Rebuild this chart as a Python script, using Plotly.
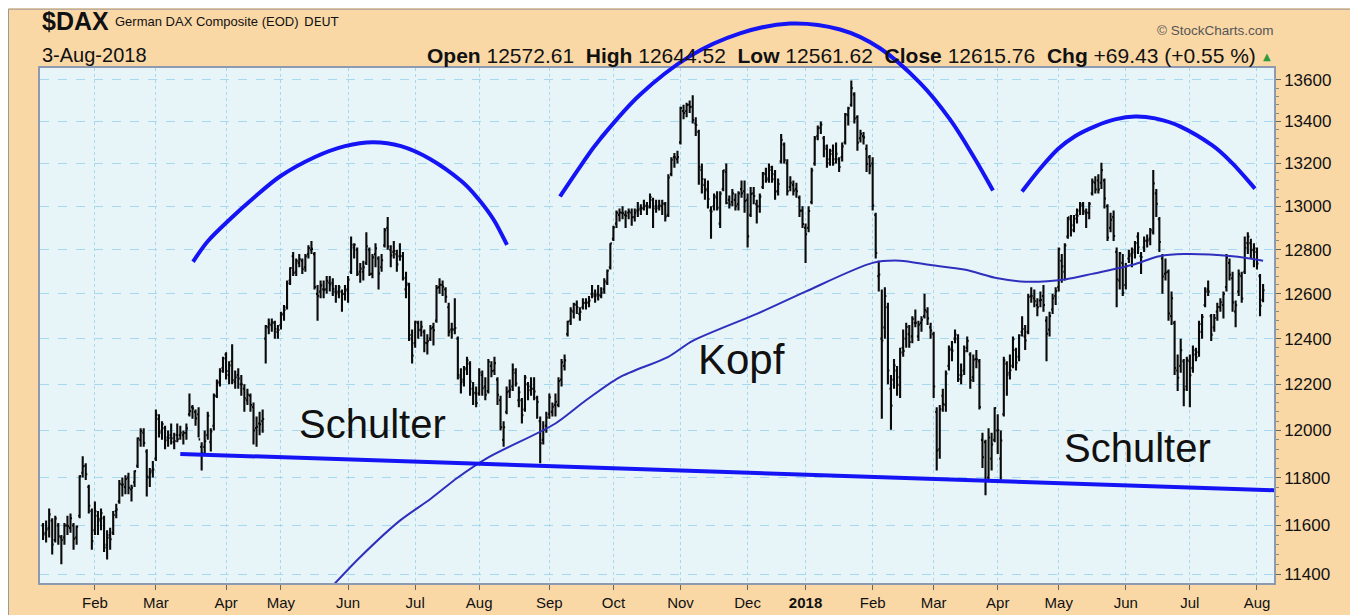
import numpy as np
import pandas as pd
import plotly.graph_objects as go

# ---------------- data ----------------
HOLIDAYS = ["2017-04-14", "2017-04-17", "2017-05-01", "2017-12-25", "2017-12-26",
            "2018-01-01", "2018-03-30", "2018-04-02", "2018-05-01"]

OPEN = [
    11600,11570,11590,11620,11540,11600,11550,11550,11600,11590,11600,11550,11640,11820,11850,11760,11660,
    11580,11640,11620,11630,11520,11560,11570,11660,11700,11770,11760,11800,11750,11780,11850,11960,11990,11910,11800,11830,
    11880,12050,11990,12010,11970,11980,11950,11980,11980,11980,11990,12070,12100,12080,12070,11930,11930,11980,11950,12020,12150,12210,12270,
    12330,12240,12300,12210,12240,12200,12180,12130,12150,12100,12010,12030,12040,12400,12450,12460,12470,12430,
    12460,12510,12540,12660,12770,12700,12740,12750,12720,12780,12800,12780,12600,12610,12620,12620,12650,12650,12610,12610,12610,12600,
    12620,12700,12810,12800,12700,12700,12740,12800,12690,12780,12760,12720,12820,12900,12800,12790,12780,12770,12770,12620,12640,12400,
    12380,12470,12440,12430,12380,12400,12450,12480,12630,12640,12620,12540,12440,12440,12400,12230,12220,12270,12290,12180,12160,
    12160,12240,12190,12170,12280,12260,12220,12130,11960,12080,12170,12190,12250,12130,12130,12090,12200,12190,12180,12140,12040,11960,12020,
    12070,12080,12110,12110,12220,12280,12420,12480,12520,12550,12510,12540,12560,12560,12600,12590,12600,12590,12620,12650,12720,
    12850,12920,12960,12970,12960,12970,12970,12950,12980,12990,12990,13000,13000,13030,13000,13000,13000,13010,12960,13150,13230,13220,
    13300,13450,13450,13480,13470,13390,13350,13170,13100,13080,12980,13000,13040,12920,13080,13160,13030,13020,13030,13010,13080,13070,
    13030,12960,13060,13010,13000,13090,13150,13130,13170,13150,13070,13210,13290,13200,13090,13100,13080,13040,12980,
    12900,12900,13020,13200,13330,13370,13320,13270,13220,13260,13220,13220,13230,13300,13430,13480,13530,13420,13320,13330,13270,13230,
    13200,12960,12680,12400,12450,12540,12180,12220,12260,12230,12360,12400,12420,12410,12470,12410,12470,12500,12520,12450,
    12420,12080,11920,12150,12110,12280,12350,12400,12400,12240,12260,12360,12330,12230,12310,12300,11960,11950,11800,11880,11960,
    12000,11880,12070,12290,12250,12280,12350,12320,12430,12410,12430,12590,12580,12550,12570,12590,12480,12440,12530,12590,
    12630,12750,12700,12860,12940,12890,12960,12980,13010,12970,12970,13060,13110,13120,13110,13120,13000,12900,12950,12790,12660,12740,
    12640,12760,12780,12800,12860,12770,12810,12840,12850,12880,13060,12940,12760,12690,12700,12500,12470,12260,12280,12300,12190,
    12300,12270,12330,12340,12430,12550,12620,12500,12450,12520,12540,12550,12630,12740,12670,12520,12610,12680,12700,12830,12830,12800,
    12790,12680,12572.61,
]
HIGH = [
    11610,11620,11670,11630,11640,11610,11560,11610,11640,11650,11610,11600,11810,11890,11860,11770,11670,
    11700,11660,11670,11640,11580,11590,11660,11690,11790,11800,11810,11820,11770,11830,11970,12010,12010,11920,11840,11870,
    12090,12070,12040,12020,12000,12030,11990,12030,12020,12000,12030,12160,12110,12090,12100,11950,12000,12080,12010,12160,12220,12270,12320,
    12340,12300,12375,12260,12270,12240,12200,12180,12160,12120,12060,12080,12090,12460,12490,12490,12480,12460,
    12520,12550,12660,12720,12790,12760,12780,12760,12780,12820,12840,12790,12640,12660,12660,12680,12680,12670,12640,12640,12620,12640,
    12680,12860,12830,12810,12740,12750,12880,12810,12780,12830,12770,12780,12900,12950,12820,12840,12800,12830,12790,12700,12650,12440,
    12480,12480,12480,12440,12420,12460,12470,12640,12670,12660,12630,12560,12470,12580,12410,12270,12280,12320,12300,12210,12190,
    12270,12260,12230,12310,12300,12320,12230,12150,12040,12190,12220,12290,12270,12190,12140,12240,12210,12230,12230,12150,12060,12040,12080,
    12160,12120,12160,12230,12310,12330,12480,12540,12560,12570,12540,12580,12580,12590,12640,12620,12640,12630,12670,12710,12830,
    12910,12980,12990,13000,12980,12990,12990,12990,13020,13010,13030,13020,13060,13040,13030,13030,13030,13020,13150,13230,13250,13260,
    13470,13480,13490,13500,13526,13420,13360,13200,13130,13120,13000,13060,13070,13070,13170,13200,13050,13080,13060,13070,13120,13120,
    13060,13090,13090,13030,13060,13160,13180,13200,13190,13170,13130,13340,13300,13220,13140,13120,13110,13050,13000,
    12920,13000,13180,13330,13380,13400,13330,13290,13270,13290,13300,13230,13300,13440,13470,13597,13540,13430,13360,13350,13290,13240,
    13230,12970,12750,12620,12630,12560,12240,12310,12280,12360,12440,12470,12460,12500,12530,12480,12500,12600,12540,12470,
    12430,12100,12110,12180,12260,12370,12390,12440,12420,12290,12370,12410,12340,12330,12350,12310,11990,11960,12010,11990,12100,
    12070,12000,12320,12300,12330,12410,12360,12420,12500,12460,12600,12630,12620,12580,12610,12640,12500,12520,12600,12630,
    12810,12780,12830,12950,12960,12960,12990,13020,13020,12990,13020,13130,13140,13150,13204,13130,13010,12970,12980,12810,12790,12780,
    12740,12800,12810,12840,12880,12790,12860,12870,12900,13170,13080,12950,12780,12760,12710,12610,12480,12330,12400,12310,12320,
    12330,12370,12360,12480,12510,12630,12660,12510,12510,12560,12580,12610,12780,12760,12700,12570,12710,12700,12860,12880,12850,12830,
    12810,12690,12644.52,
]
LOW = [
    11540,11530,11550,11480,11530,11520,11440,11520,11560,11570,11500,11520,11630,11800,11790,11650,11500,
    11560,11560,11580,11490,11460,11500,11560,11630,11690,11720,11730,11730,11700,11760,11840,11930,11930,11720,11760,11800,
    11870,11970,11960,11920,11930,11940,11920,11950,11960,11940,11960,12060,12050,12020,11970,11830,11900,11960,11910,12000,12140,12190,12250,
    12220,12200,12200,12180,12180,12150,12080,12110,12080,11940,11930,11980,11990,12290,12420,12430,12400,12400,
    12440,12480,12530,12640,12680,12680,12720,12690,12700,12760,12780,12620,12480,12580,12580,12600,12610,12590,12560,12580,12520,12570,
    12560,12690,12760,12680,12650,12660,12730,12680,12670,12720,12620,12700,12810,12800,12720,12760,12700,12750,12660,12580,12390,12290,
    12360,12400,12410,12340,12330,12390,12370,12470,12600,12590,12560,12410,12400,12420,12220,12160,12190,12240,12150,12110,12100,
    12150,12150,12130,12160,12230,12240,12110,12000,11930,12070,12140,12170,12190,12100,12030,12080,12130,12150,12130,12050,11860,11940,11990,
    12050,12060,12060,12100,12190,12260,12410,12460,12490,12510,12480,12530,12530,12540,12580,12560,12570,12580,12600,12640,12710,
    12840,12900,12930,12940,12900,12940,12910,12930,12950,12960,12980,12960,12990,12900,12970,12980,12960,12930,12950,13140,13180,13200,
    13290,13410,13420,13440,13390,13330,13100,13060,13030,12990,12850,12980,12980,12900,13070,13010,12990,13000,12980,12980,13040,12970,
    12810,12950,13010,12920,12970,13080,13110,13110,13110,13030,13050,13200,13200,13050,13070,13050,13040,12950,12900,
    12740,12880,13010,13190,13310,13340,13230,13180,13190,13190,13200,13160,13210,13290,13380,13470,13390,13260,13300,13290,13160,13150,
    12980,12760,12610,12050,12400,12200,12003,12180,12150,12140,12320,12360,12360,12380,12450,12390,12430,12490,12460,12400,
    12140,11830,11880,12080,12080,12260,12300,12380,12210,12200,12240,12340,12180,12210,12270,12090,11840,11726,11790,11830,11950,
    11900,11780,12060,12150,12220,12270,12260,12300,12410,12350,12420,12560,12540,12500,12540,12520,12300,12410,12510,12550,
    12610,12650,12660,12850,12860,12880,12920,12960,12960,12900,12940,13050,13060,13060,13080,12990,12840,12880,12840,12540,12620,12590,
    12620,12740,12720,12760,12780,12690,12790,12810,12820,12870,12950,12790,12600,12660,12480,12460,12240,12170,12250,12104,12170,
    12100,12250,12300,12320,12400,12540,12590,12390,12430,12480,12520,12490,12610,12660,12520,12450,12590,12560,12690,12780,12760,12720,
    12710,12500,12561.62,
]
CLOSE = [
    11563,11583,11646,11521,11629,11555,11540,11599,11597,11630,11545,11595,11806,11848,11814,11682,11535,
    11659,11627,11651,11509,11549,11543,11643,11666,11774,11771,11794,11757,11757,11827,11967,11998,11947,11804,11822,11834,
    12067,11999,12028,11958,11968,11967,11955,11963,11990,11989,12009,12083,12095,12052,11962,11904,11954,12064,11996,12149,12204,12257,12313,
    12257,12282,12218,12230,12225,12200,12139,12154,12109,12000,12016,12027,12049,12455,12467,12473,12443,12438,
    12507,12528,12648,12717,12694,12749,12757,12711,12770,12808,12804,12631,12590,12638,12619,12659,12642,12622,12602,12629,12599,12615,
    12664,12823,12823,12690,12714,12720,12816,12690,12765,12806,12692,12752,12889,12815,12774,12794,12733,12771,12671,12647,12416,12325,
    12475,12437,12453,12382,12389,12445,12437,12627,12641,12632,12587,12430,12441,12447,12240,12209,12264,12305,12212,12163,12118,
    12251,12182,12154,12298,12257,12292,12154,12014,12014,12165,12177,12263,12203,12165,12066,12229,12174,12180,12168,12123,11946,12002,12056,
    12143,12102,12124,12214,12296,12304,12476,12525,12554,12540,12519,12559,12561,12570,12600,12592,12595,12606,12657,12705,12829,
    12902,12970,12971,12968,12956,12976,12949,12970,12982,12992,13003,12995,13043,12990,12991,13003,13013,12953,13134,13218,13229,13230,
    13465,13440,13479,13469,13407,13383,13183,13127,13074,13034,12976,13047,12994,13059,13168,13015,13008,13060,13000,13060,13061,13024,
    12861,13058,13048,12999,13045,13154,13123,13183,13126,13069,13104,13312,13216,13070,13110,13073,13070,12980,12918,
    12871,12978,13167,13319,13367,13385,13281,13202,13245,13201,13246,13184,13281,13434,13463,13560,13414,13298,13341,13324,13198,13189,
    13004,12785,12687,12392,12590,12260,12107,12282,12197,12339,12346,12452,12385,12488,12470,12462,12484,12527,12490,12436,
    12190,11914,12091,12114,12246,12356,12347,12418,12222,12238,12345,12390,12217,12307,12309,12101,11886,11787,11970,11940,12097,
    12002,11957,12305,12241,12261,12397,12294,12415,12443,12392,12586,12591,12567,12540,12572,12550,12422,12501,12580,12612,
    12802,12724,12820,12949,12912,12943,12956,13002,12978,12970,13011,13115,13078,13078,13169,13036,12856,12938,12863,12666,12784,12605,
    12724,12771,12788,12830,12811,12767,12842,12842,12890,13107,13011,12835,12678,12696,12512,12580,12271,12228,12349,12177,12306,
    12239,12349,12318,12465,12496,12610,12610,12417,12492,12541,12562,12600,12765,12686,12561,12549,12689,12579,12809,12860,12798,12806,
    12737,12546.33,12615.76,
]

# 200-day moving average, read at selected dates
MA_DATES = ["2017-05-24", "2017-06-07", "2017-06-26", "2017-07-10", "2017-07-21", "2017-08-04",
            "2017-09-05", "2017-09-19", "2017-10-04", "2017-10-26", "2017-11-07", "2017-12-06",
            "2018-01-02", "2018-02-01", "2018-02-14", "2018-02-28", "2018-03-15", "2018-04-03",
            "2018-04-16", "2018-05-04", "2018-05-17", "2018-06-05", "2018-06-18", "2018-06-28",
            "2018-07-20", "2018-08-03"]
MA_VALUES = [11340, 11470, 11620, 11710, 11800, 11885,
             12030, 12130, 12230, 12320, 12390, 12510,
             12610, 12740, 12750, 12730, 12710, 12670,
             12655, 12665, 12690, 12730, 12770, 12780,
             12770, 12750]

# hand drawn support line
TREND_DATES = ["2017-03-13", "2018-08-13"]
TREND_VALUES = [11900, 11745]

MONTH_TICKS = ["2017-02-01", "2017-03-01", "2017-04-03", "2017-05-02", "2017-06-01", "2017-07-03",
               "2017-08-01", "2017-09-01", "2017-10-02", "2017-11-01", "2017-12-01", "2018-01-02",
               "2018-02-01", "2018-03-01", "2018-04-03", "2018-05-02", "2018-06-01", "2018-07-02",
               "2018-08-01"]
MONTH_LABELS = ["Feb", "Mar", "Apr", "May", "Jun", "Jul", "Aug", "Sep", "Oct", "Nov", "Dec",
                "<b>2018</b>", "Feb", "Mar", "Apr", "May", "Jun", "Jul", "Aug"]
PRICE_TICKS = [11400, 11600, 11800, 12000, 12200, 12400, 12600, 12800, 13000, 13200, 13400, 13600]

# ---------------- figure ----------------
dates = pd.bdate_range("2017-01-09", "2018-08-03")
dates = dates[~dates.isin(pd.to_datetime(HOLIDAYS))]
assert len(dates) == len(CLOSE) == len(OPEN) == len(HIGH) == len(LOW)

W, H = 1358, 615
OFF = 8  # page offset of the figure inside the browser window
ML, MR, MT, MB = 32, 92, 60, 34
PW, PH = W - ML - MR, H - MT - MB


def px(x):  # window pixel -> paper x
    return (x - OFF - ML) / PW


def py(y):  # window pixel -> paper y
    return (H - MB - (y - OFF)) / PH


BLUE = "#1414F5"
fig = go.Figure()

fig.add_trace(go.Ohlc(
    x=dates, open=OPEN, high=HIGH, low=LOW, close=CLOSE,
    increasing=dict(line=dict(color="#0A0A0A", width=2.1)),
    decreasing=dict(line=dict(color="#0A0A0A", width=2.1)),
    tickwidth=0.5, hoverinfo="skip", showlegend=False,
))
fig.add_trace(go.Scatter(
    x=MA_DATES, y=MA_VALUES, mode="lines",
    line=dict(color="#2F2FBE", width=2, shape="spline", smoothing=0.8),
    hoverinfo="skip", showlegend=False,
))
fig.add_trace(go.Scatter(
    x=TREND_DATES, y=TREND_VALUES, mode="lines",
    line=dict(color=BLUE, width=4), hoverinfo="skip", showlegend=False,
))


def smooth_path(points):
    pts = [(px(x), py(y)) for x, y in points]
    pts = [pts[0]] + pts + [pts[-1]]
    d = "M %.5f,%.5f" % pts[1]
    for i in range(1, len(pts) - 2):
        p0, p1, p2, p3 = pts[i - 1], pts[i], pts[i + 1], pts[i + 2]
        c1 = (p1[0] + (p2[0] - p0[0]) / 6, p1[1] + (p2[1] - p0[1]) / 6)
        c2 = (p2[0] - (p3[0] - p1[0]) / 6, p2[1] - (p3[1] - p1[1]) / 6)
        d += " C %.5f,%.5f %.5f,%.5f %.5f,%.5f" % (c1 + c2 + p2)
    return d


ARC_LEFT = [(193, 264), (208, 243), (231, 220), (253, 200), (281, 177), (315, 158), (345, 147),
            (373, 143), (401, 147), (430, 160), (461, 182), (478, 200), (494, 222), (507, 247)]
ARC_MID = [(560, 198), (580, 168), (600, 140), (640, 95), (690, 56), (740, 33), (790, 23),
           (840, 29), (880, 48), (920, 83), (950, 120), (975, 160), (993, 192)]
ARC_RIGHT = [(1022, 193), (1040, 170), (1058, 150), (1075, 137), (1095, 127), (1115, 120),
             (1135, 117), (1155, 119), (1180, 127), (1212, 146), (1232, 164), (1255, 190)]

shapes = [
    dict(type="rect", xref="paper", yref="paper", x0=px(8.5), x1=px(1370), y0=py(630), y1=py(8.5),
         fillcolor="rgba(0,0,0,0)", line=dict(color="#9A9A9A", width=1), layer="below"),
]
for arc in (ARC_LEFT, ARC_MID, ARC_RIGHT):
    shapes.append(dict(type="path", xref="paper", yref="paper", path=smooth_path(arc),
                       line=dict(color=BLUE, width=4)))

FONT = "Liberation Sans, Arial, sans-serif"
chg = CLOSE[-1] - CLOSE[-2]
pct = chg / CLOSE[-2] * 100
ohlc_text = ("<b>Open</b> %.2f  <b>High</b> %.2f  <b>Low</b> %.2f  <b>Close</b> %.2f  "
             "<b>Chg</b> %+.2f (%+.2f %%)" % (OPEN[-1], HIGH[-1], LOW[-1], CLOSE[-1], chg, pct))

annotations = [
    dict(text="<b>$DAX</b>", x=px(40), y=py(20), xanchor="left", yanchor="middle",
         font=dict(family=FONT, size=25, color="#111")),
    dict(text="German DAX Composite (EOD)", x=px(113), y=py(21), xanchor="left", yanchor="middle",
         font=dict(family=FONT, size=13, color="#111")),
    dict(text="DEUT", x=px(302), y=py(21), xanchor="left", yanchor="middle",
         font=dict(family="DejaVu Sans, Verdana, sans-serif", size=12.5, color="#111")),
    dict(text="3-Aug-2018", x=px(40), y=py(55), xanchor="left", yanchor="middle",
         font=dict(family=FONT, size=20, color="#111")),
    dict(text=ohlc_text, x=px(1258), y=py(55), xanchor="right", yanchor="middle",
         font=dict(family=FONT, size=21, color="#111")),
    dict(text="▲", x=px(1267), y=py(56), xanchor="center", yanchor="middle",
         font=dict(family="DejaVu Sans", size=10, color="#2E9A3A")),
    dict(text="© StockCharts.com", x=px(1275), y=py(30), xanchor="right", yanchor="middle",
         font=dict(family=FONT, size=13.5, color="#555")),
    dict(text="Schulter", x=px(372), y=py(428), xanchor="center", yanchor="middle",
         font=dict(family=FONT, size=40, color="#111")),
    dict(text="Kopf", x=px(741), y=py(363), xanchor="center", yanchor="middle",
         font=dict(family=FONT, size=42, color="#111")),
    dict(text="Schulter", x=px(1137), y=py(452), xanchor="center", yanchor="middle",
         font=dict(family=FONT, size=40, color="#111")),
]
for a in annotations:
    a.update(xref="paper", yref="paper", showarrow=False)

GRID = "#A6D9F0"
minor_vals = [v for v in range(11400, 13640, 40) if v not in PRICE_TICKS]
fig.update_layout(
    width=W, height=H,
    margin=dict(l=ML, r=MR, t=MT, b=MB, pad=0),
    paper_bgcolor="#FAD8A6", plot_bgcolor="#E8F5F8",
    shapes=shapes, annotations=annotations,
    showlegend=False,
    xaxis=dict(
        type="date",
        range=["2017-01-06 00:00", "2018-08-08 14:00"],
        rangebreaks=[dict(bounds=["sat", "mon"]), dict(values=HOLIDAYS)],
        rangeslider=dict(visible=False),
        tickmode="array", tickvals=MONTH_TICKS, ticktext=MONTH_LABELS,
        ticks="outside", ticklen=5, tickcolor="#666",
        showgrid=True, gridcolor=GRID, griddash="dot", gridwidth=1,
        showline=True, linecolor="#8D9AB0", linewidth=1.5, mirror=True,
        tickfont=dict(family=FONT, size=15, color="#111"),
        zeroline=False, fixedrange=True,
    ),
    yaxis=dict(
        type="log", side="right",
        range=[np.log10(11364), np.log10(13658)],
        tickmode="array", tickvals=PRICE_TICKS, ticktext=[str(v) for v in PRICE_TICKS],
        ticks="outside", ticklen=5, tickcolor="#666",
        minor=dict(tickmode="array", tickvals=minor_vals, ticks="outside", ticklen=3,
                   tickcolor="#888", showgrid=False),
        showgrid=True, gridcolor=GRID, griddash="dash", gridwidth=1,
        showline=True, linecolor="#8D9AB0", linewidth=1.5, mirror=True,
        tickfont=dict(family=FONT, size=17, color="#111"),
        zeroline=False, fixedrange=True,
    ),
)

fig.write_html("out.html")
